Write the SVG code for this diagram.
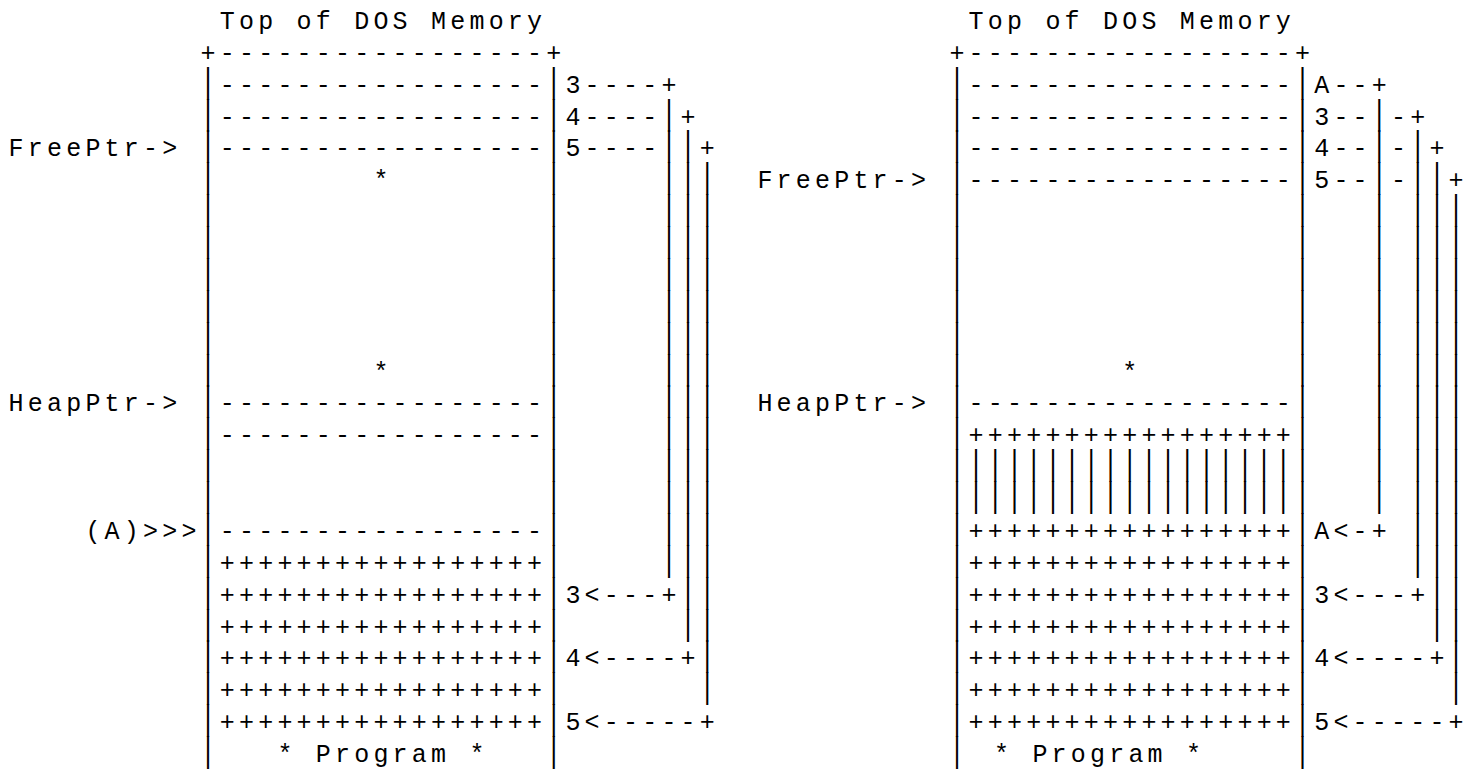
<svg xmlns="http://www.w3.org/2000/svg" width="1478" height="769" viewBox="0 0 1478 769">
<style>
.t { font-family: "Liberation Mono", "DejaVu Sans Mono", monospace; font-size: 25px; letter-spacing: 4.2px; fill: #000; }
.b { font-family: "Liberation Mono", "DejaVu Sans Mono", monospace; font-size: 25px; fill: #000; }
</style>
<rect x="0" y="0" width="1478" height="769" fill="#fff"/>
<g id="left-diagram">
  <g class="t">
    <text x="219.8" y="29">Top of DOS Memory</text>
    <text x="200.6" y="60.87">+-----------------+</text>
    <text x="219.8" y="92.74">-----------------</text>
    <text x="565.4" y="92.74">3----+</text>
    <text x="219.8" y="124.61">-----------------</text>
    <text x="565.4" y="124.61">4----</text>
    <text x="680.6" y="124.61">+</text>
    <text x="8.6" y="156.48">FreePtr-&gt;</text>
    <text x="219.8" y="156.48">-----------------</text>
    <text x="565.4" y="156.48">5----</text>
    <text x="699.8" y="156.48">+</text>
    <text x="373.4" y="188.35">*</text>
    <text x="373.4" y="379.57">*</text>
    <text x="8.6" y="411.44">HeapPtr-&gt;</text>
    <text x="219.8" y="411.44">-----------------</text>
    <text x="219.8" y="443.31">-----------------</text>
    <text x="85.4" y="538.92">(A)&gt;&gt;&gt;</text>
    <text x="219.8" y="538.92">-----------------</text>
    <text x="219.8" y="570.79">+++++++++++++++++</text>
    <text x="219.8" y="602.66">+++++++++++++++++</text>
    <text x="565.4" y="602.66">3&lt;---+</text>
    <text x="219.8" y="634.53">+++++++++++++++++</text>
    <text x="219.8" y="666.40">+++++++++++++++++</text>
    <text x="565.4" y="666.40">4&lt;----+</text>
    <text x="219.8" y="698.27">+++++++++++++++++</text>
    <text x="219.8" y="730.14">+++++++++++++++++</text>
    <text x="565.4" y="730.14">5&lt;-----+</text>
    <text x="277.4" y="762.01">* Program *</text>
  </g>
  <g class="b" transform="scale(1,1.4)">
    <text x="200.6 546.2" y="66.24">||</text>
    <text x="200.6 546.2 661.4" y="89.01">|||</text>
    <text x="200.6 546.2 661.4 680.6" y="111.77">||||</text>
    <text x="200.6 546.2 661.4 680.6 699.8" y="134.54">|||||</text>
    <text x="200.6 546.2 661.4 680.6 699.8" y="157.30">|||||</text>
    <text x="200.6 546.2 661.4 680.6 699.8" y="180.06">|||||</text>
    <text x="200.6 546.2 661.4 680.6 699.8" y="202.83">|||||</text>
    <text x="200.6 546.2 661.4 680.6 699.8" y="225.59">|||||</text>
    <text x="200.6 546.2 661.4 680.6 699.8" y="248.36">|||||</text>
    <text x="200.6 546.2 661.4 680.6 699.8" y="271.12">|||||</text>
    <text x="200.6 546.2 661.4 680.6 699.8" y="293.89">|||||</text>
    <text x="200.6 546.2 661.4 680.6 699.8" y="316.65">|||||</text>
    <text x="200.6 546.2 661.4 680.6 699.8" y="339.41">|||||</text>
    <text x="200.6 546.2 661.4 680.6 699.8" y="362.18">|||||</text>
    <text x="200.6 546.2 661.4 680.6 699.8" y="384.94">|||||</text>
    <text x="200.6 546.2 661.4 680.6 699.8" y="407.71">|||||</text>
    <text x="200.6 546.2 680.6 699.8" y="430.47">||||</text>
    <text x="200.6 546.2 680.6 699.8" y="453.24">||||</text>
    <text x="200.6 546.2 699.8" y="476.00">|||</text>
    <text x="200.6 546.2 699.8" y="498.76">|||</text>
    <text x="200.6 546.2" y="521.53">||</text>
    <text x="200.6 546.2" y="544.29">||</text>
  </g>
</g>
<g id="right-diagram">
  <g class="t">
    <text x="968.6" y="29">Top of DOS Memory</text>
    <text x="949.4" y="60.87">+-----------------+</text>
    <text x="968.6" y="92.74">-----------------</text>
    <text x="1314.2" y="92.74">A--+</text>
    <text x="968.6" y="124.61">-----------------</text>
    <text x="1314.2" y="124.61">3--</text>
    <text x="1391.0" y="124.61">-+</text>
    <text x="968.6" y="156.48">-----------------</text>
    <text x="1314.2" y="156.48">4--</text>
    <text x="1391.0" y="156.48">-</text>
    <text x="1429.4" y="156.48">+</text>
    <text x="757.4" y="188.35">FreePtr-&gt;</text>
    <text x="968.6" y="188.35">-----------------</text>
    <text x="1314.2" y="188.35">5--</text>
    <text x="1391.0" y="188.35">-</text>
    <text x="1448.6" y="188.35">+</text>
    <text x="1122.2" y="379.57">*</text>
    <text x="757.4" y="411.44">HeapPtr-&gt;</text>
    <text x="968.6" y="411.44">-----------------</text>
    <text x="968.6" y="443.31">+++++++++++++++++</text>
    <text x="968.6" y="538.92">+++++++++++++++++</text>
    <text x="1314.2" y="538.92">A&lt;-+</text>
    <text x="968.6" y="570.79">+++++++++++++++++</text>
    <text x="968.6" y="602.66">+++++++++++++++++</text>
    <text x="1314.2" y="602.66">3&lt;---+</text>
    <text x="968.6" y="634.53">+++++++++++++++++</text>
    <text x="968.6" y="666.40">+++++++++++++++++</text>
    <text x="1314.2" y="666.40">4&lt;----+</text>
    <text x="968.6" y="698.27">+++++++++++++++++</text>
    <text x="968.6" y="730.14">+++++++++++++++++</text>
    <text x="1314.2" y="730.14">5&lt;-----+</text>
    <text x="994" y="762.01">* Program *</text>
  </g>
  <g class="b" transform="scale(1,1.4)">
    <text x="949.4 1295.0" y="66.24">||</text>
    <text x="949.4 1295.0 1371.8" y="89.01">|||</text>
    <text x="949.4 1295.0 1371.8 1410.2" y="111.77">||||</text>
    <text x="949.4 1295.0 1371.8 1410.2 1429.4" y="134.54">|||||</text>
    <text x="949.4 1295.0 1371.8 1410.2 1429.4 1448.6" y="157.30">||||||</text>
    <text x="949.4 1295.0 1371.8 1410.2 1429.4 1448.6" y="180.06">||||||</text>
    <text x="949.4 1295.0 1371.8 1410.2 1429.4 1448.6" y="202.83">||||||</text>
    <text x="949.4 1295.0 1371.8 1410.2 1429.4 1448.6" y="225.59">||||||</text>
    <text x="949.4 1295.0 1371.8 1410.2 1429.4 1448.6" y="248.36">||||||</text>
    <text x="949.4 1295.0 1371.8 1410.2 1429.4 1448.6" y="271.12">||||||</text>
    <text x="949.4 1295.0 1371.8 1410.2 1429.4 1448.6" y="293.89">||||||</text>
    <text x="949.4 1295.0 1371.8 1410.2 1429.4 1448.6" y="316.65">||||||</text>
    <text x="949.4 968.6 987.8 1007.0 1026.2 1045.4 1064.6 1083.8 1103.0 1122.2 1141.4 1160.6 1179.8 1199.0 1218.2 1237.4 1256.6 1275.8 1295.0 1371.8 1410.2 1429.4 1448.6" y="339.41">|||||||||||||||||||||||</text>
    <text x="949.4 968.6 987.8 1007.0 1026.2 1045.4 1064.6 1083.8 1103.0 1122.2 1141.4 1160.6 1179.8 1199.0 1218.2 1237.4 1256.6 1275.8 1295.0 1371.8 1410.2 1429.4 1448.6" y="362.18">|||||||||||||||||||||||</text>
    <text x="949.4 1295.0 1410.2 1429.4 1448.6" y="384.94">|||||</text>
    <text x="949.4 1295.0 1410.2 1429.4 1448.6" y="407.71">|||||</text>
    <text x="949.4 1295.0 1429.4 1448.6" y="430.47">||||</text>
    <text x="949.4 1295.0 1429.4 1448.6" y="453.24">||||</text>
    <text x="949.4 1295.0 1448.6" y="476.00">|||</text>
    <text x="949.4 1295.0 1448.6" y="498.76">|||</text>
    <text x="949.4 1295.0" y="521.53">||</text>
    <text x="949.4 1295.0" y="544.29">||</text>
  </g>
</g>
</svg>
